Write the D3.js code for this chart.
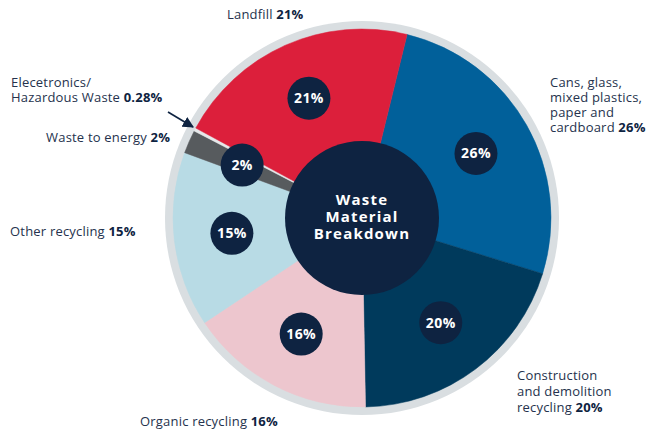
<!DOCTYPE html>
<html>
<head>
<meta charset="utf-8">
<script src="https://cdn.jsdelivr.net/npm/d3@7"></script>
<style>
  html, body { margin: 0; padding: 0; background: #ffffff; }
  svg { display: block; }
  text { font-family: "Open Sans", "Noto Sans", sans-serif; }
</style>
</head>
<body>
<svg id="chart" width="647" height="432"></svg>
<script>
// ---- data ----
const categories = [
  "Cans, glass, mixed plastics, paper and cardboard",
  "Construction and demolition recycling",
  "Organic recycling",
  "Other recycling",
  "Waste to energy",
  "Elecetronics/ Hazardous Waste",
  "Landfill"
];
const values = [26, 20, 16, 15, 2, 0.28, 21];
const valueLabels = ["26%", "20%", "16%", "15%", "2%", "0.28%", "21%"];
const labelLines = [
  ["Cans, glass,", "mixed plastics,", "paper and", "cardboard "],
  ["Construction", "and demolition", "recycling "],
  ["Organic recycling "],
  ["Other recycling "],
  ["Waste to energy "],
  ["Elecetronics/", "Hazardous Waste "],
  ["Landfill "]
];
const showBadge = [true, true, true, true, true, false, true];
const centerTitle = ["Waste", "Material", "Breakdown"];

// ---- styles / layout ----
const colors = ["#01609a", "#003a5c", "#edc6ce", "#b8dbe5", "#575b5e", "#e6e8ea", "#dc1f3b"];
const ringColor = "#d9dee1";
const navy = "#0e2341";
const textColor = "#25324d";
const cx = 362, cy = 218;
const rPie = 189, rRing = 197, rCenter = 77, rBadge = 131, badgeR = 21.5;
const startDeg = 13.8;
const labelPos = [
  { x: 550, y: 87, dy: 15 },
  { x: 517, y: 380, dy: 16 },
  { x: 140, y: 426, dy: 15 },
  { x: 10, y: 236, dy: 15 },
  { x: 46, y: 142, dy: 15 },
  { x: 11, y: 87, dy: 15 },
  { x: 227, y: 19, dy: 15 }
];

const svg = d3.select("#chart");
const defs = svg.append("defs");
defs.append("marker")
  .attr("id", "arrow")
  .attr("viewBox", "0 0 10 10")
  .attr("refX", 9).attr("refY", 5)
  .attr("markerWidth", 7).attr("markerHeight", 7)
  .attr("orient", "auto")
  .append("path").attr("d", "M0,0 L10,5 L0,10 z").attr("fill", navy);

const g = svg.append("g").attr("transform", `translate(${cx},${cy})`);

g.append("circle").attr("r", rRing).attr("fill", ringColor);

const data = categories.map((c, i) => ({ c, v: values[i], i }));
const start = startDeg * Math.PI / 180;
const pie = d3.pie().sort(null).value(d => d.v).startAngle(start).endAngle(start + 2 * Math.PI);
const arcs = pie(data);
const arc = d3.arc().innerRadius(0).outerRadius(rPie);
const badgeArc = d3.arc().innerRadius(rBadge).outerRadius(rBadge);

g.selectAll("path.slice").data(arcs).join("path")
  .attr("class", "slice")
  .attr("d", arc)
  .attr("fill", d => colors[d.data.i])
  .attr("stroke", d => colors[d.data.i])
  .attr("stroke-width", 0.5);

g.append("circle").attr("r", rCenter).attr("fill", navy);

const title = g.append("text")
  .attr("text-anchor", "middle")
  .attr("fill", "#ffffff")
  .style("font-size", "15px")
  .style("font-weight", "700")
  .style("letter-spacing", "1.2px");
centerTitle.forEach((t, k) => {
  title.append("tspan").attr("x", 0).attr("y", -13 + k * 17).text(t);
});

const badges = g.selectAll("g.badge").data(arcs.filter(d => showBadge[d.data.i])).join("g")
  .attr("class", "badge")
  .attr("transform", d => `translate(${badgeArc.centroid(d)})`);
badges.append("circle").attr("r", badgeR).attr("fill", navy);
badges.append("text")
  .attr("text-anchor", "middle")
  .attr("dy", "0.36em")
  .attr("fill", "#ffffff")
  .style("font-size", "14px")
  .style("font-weight", "700")
  .style("letter-spacing", "0.4px")
  .text(d => valueLabels[d.data.i]);

// outer labels
categories.forEach((c, i) => {
  const p = labelPos[i];
  const lines = labelLines[i];
  const t = svg.append("text")
    .attr("fill", textColor)
    .style("font-size", "13px")
    .style("letter-spacing", "0.2px");
  lines.forEach((ln, k) => {
    t.append("tspan").attr("x", p.x).attr("y", p.y + k * p.dy).text(ln);
    if (k === lines.length - 1) {
      t.append("tspan").style("font-weight", "700").attr("fill", navy).text(valueLabels[i]);
    }
  });
});

// arrow for tiny slice
svg.append("line")
  .attr("x1", 168).attr("y1", 112)
  .attr("x2", 193).attr("y2", 127)
  .attr("stroke", navy).attr("stroke-width", 1.6)
  .attr("marker-end", "url(#arrow)");
</script>
</body>
</html>
